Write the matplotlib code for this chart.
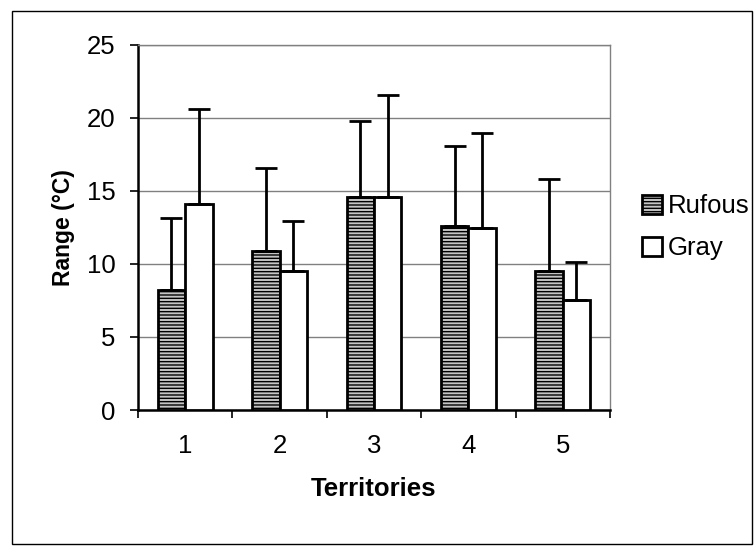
import numpy as np
import matplotlib
matplotlib.use("Agg")
import matplotlib.pyplot as plt
from matplotlib.patches import Rectangle

plt.rcParams['font.family'] = ['Liberation Sans', 'DejaVu Sans']
plt.rcParams['hatch.linewidth'] = 1.0

territories = ['1', '2', '3', '4', '5']
rufous = [8.25, 10.9, 14.6, 12.6, 9.5]
rufous_err = [4.9, 5.7, 5.15, 5.5, 6.3]
gray = [14.1, 9.5, 14.6, 12.45, 7.55]
gray_err = [6.5, 3.45, 6.95, 6.5, 2.6]

fig = plt.figure(figsize=(7.54, 5.46), dpi=100)
ax = fig.add_axes([0.183, 0.249, 0.626, 0.669])

x = np.arange(1, len(territories) + 1)
w = 0.29

ax.bar(x - w / 2, rufous, w, color='#c4c4c4', edgecolor='black', linewidth=2,
       hatch='-----', label='Rufous', zorder=3)
ax.bar(x + w / 2, gray, w, color='white', edgecolor='black', linewidth=2,
       label='Gray', zorder=3)

# only the upper half of the error bars is drawn
ax.errorbar(x - w / 2, rufous, yerr=[np.zeros(5), rufous_err], fmt='none',
            ecolor='black', elinewidth=2, capsize=8, capthick=2, zorder=4)
ax.errorbar(x + w / 2, gray, yerr=[np.zeros(5), gray_err], fmt='none',
            ecolor='black', elinewidth=2, capsize=8, capthick=2, zorder=4)

ax.set_xlim(0.5, 5.5)
ax.set_ylim(0, 25)
ax.set_yticks(np.arange(0, 26, 5))
ax.set_xticks(x)
ax.set_xticklabels(territories)
ax.set_xticks(np.arange(0.5, 5.6, 1), minor=True)
ax.tick_params(axis='x', which='major', length=0, labelsize=18.5, pad=17)
ax.tick_params(axis='x', which='minor', length=6, width=1.2, direction='out')
ax.tick_params(axis='y', length=6, width=1.2, direction='out', labelsize=18.5, pad=10)

ax.yaxis.grid(True, color='#808080', linewidth=1)
ax.set_axisbelow(True)
for s in ['top', 'right']:
    ax.spines[s].set_color('#808080')
    ax.spines[s].set_linewidth(1)
ax.spines['left'].set_linewidth(1.8)
ax.spines['bottom'].set_linewidth(1.8)

ax.set_ylabel('Range (°C)', fontsize=16.5, fontweight='bold', labelpad=9)
ax.set_xlabel('Territories', fontsize=18.5, fontweight='bold', labelpad=14)

ax.legend(loc='center left', bbox_to_anchor=(1.045, 0.50), frameon=False,
          fontsize=18.5, handlelength=0.78, handleheight=0.78, handletextpad=0.23,
          labelspacing=0.7, borderaxespad=0)

fig.patches.append(Rectangle((0.016, 0.003), 0.982, 0.977, transform=fig.transFigure,
                             fill=False, edgecolor='black', linewidth=1))

fig.savefig('out.png', dpi=100)
